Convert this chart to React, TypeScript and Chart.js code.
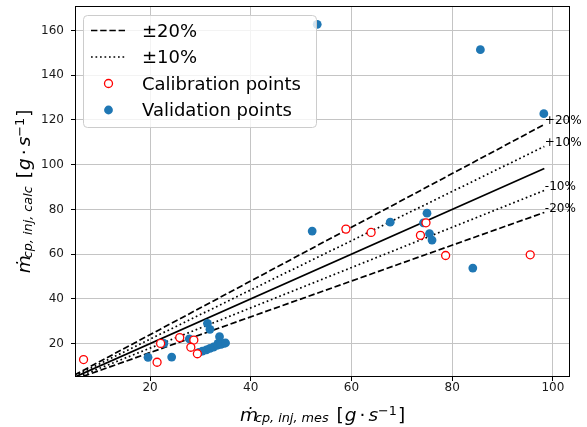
import React, { useEffect, useRef } from 'react';
import { Chart, registerables } from 'chart.js';

Chart.register(...registerables);

const FONT = "'DejaVu Sans', 'Liberation Sans', sans-serif";

// ---- data ----
const xTicks = [20, 40, 60, 80, 100];
const yTicks = [20, 40, 60, 80, 100, 120, 140, 160];

const calX = [6.8, 21.4, 22.1, 25.9, 28.7, 28.1, 29.4, 58.9, 63.9, 74.8, 73.7, 78.7, 95.5];
const calY = [12.9, 11.7, 20.1, 22.7, 21.6, 18.4, 15.5, 71.2, 69.7, 74.0, 68.4, 59.4, 59.7];

const valX = [53.2, 85.6, 98.2, 52.2, 67.7, 75.0, 74.3, 75.5, 76.0, 84.1, 19.6, 24.3, 22.75, 27.8,
  31.4, 31.9, 33.8, 33.5, 34.6, 29.7, 30.4, 31.2, 31.9, 32.6, 33.4, 34.1, 35.0];
const valY = [162.7, 151.4, 122.8, 70.3, 74.3, 78.3, 74.0, 69.2, 66.3, 53.8, 13.9, 14.0, 20.1, 22.1,
  29.1, 26.4, 23.1, 20.1, 20.1, 16.1, 16.7, 17.2, 17.9, 18.5, 19.3, 19.7, 20.3];

const lineX = [5, 98.3];
const refY = [5, 98.3];
const plus20Y = [6.0, 117.96];
const plus10Y = [5.5, 108.13];
const minus10Y = [4.5, 88.47];
const minus20Y = [4.0, 78.64];

const pctLabels = ['+20%', '+10%', '-10%', '-20%'];
const pctLabelX = 98.4;
const pctLabelY = [117.96, 108.13, 88.47, 78.64];

const legendLabels = ['±20%', '±10%', 'Calibration points', 'Validation points'];

const X_MIN = 5.1, X_MAX = 103.4, Y_MIN = 5.1, Y_MAX = 170.9;

const BLUE = '#1f77b4';
const RED = '#ff0000';
const DASH = [6.4, 2.8];
const DOT = [1.7, 2.8];

type Run = { t: string; size: number; italic?: boolean; dy?: number; gap?: number };

const titleRuns = (sub: string): Run[] => [
  { t: 'ṁ', size: 18.5, italic: true },
  { t: sub, size: 12.8, italic: true, dy: 1.5, gap: -3 },
  { t: '[', size: 18.5, gap: 8 },
  { t: 'g', size: 18.5, italic: true, gap: 1 },
  { t: '·', size: 18.5, gap: 3 },
  { t: 's', size: 18.5, italic: true, gap: 3 },
  { t: '−1', size: 12.8, dy: -6 },
  { t: ']', size: 18.5, gap: 1 },
];

function drawRuns(ctx: CanvasRenderingContext2D, runs: Run[], cx: number, by: number) {
  const fontOf = (r: Run) => `${r.italic ? 'italic ' : ''}${r.size}px ${FONT}`;
  let total = 0;
  const widths: number[] = [];
  runs.forEach((r) => {
    ctx.font = fontOf(r);
    const w = ctx.measureText(r.t).width;
    widths.push(w);
    total += w + (r.gap || 0);
  });
  let x = cx - total / 2;
  ctx.textAlign = 'left';
  ctx.textBaseline = 'alphabetic';
  ctx.fillStyle = '#000';
  runs.forEach((r, i) => {
    x += r.gap || 0;
    ctx.font = fontOf(r);
    ctx.fillText(r.t, x, by + (r.dy || 0));
    x += widths[i];
  });
}

const overlayPlugin = {
  id: 'overlay',
  afterDatasetsDraw(chart: any) {
    const { ctx, chartArea, scales } = chart;
    const xs = scales.x, ys = scales.y;
    ctx.save();
    // percent labels
    ctx.font = `12px ${FONT}`;
    ctx.fillStyle = '#000';
    ctx.textAlign = 'left';
    ctx.textBaseline = 'alphabetic';
    pctLabels.forEach((lab, i) => {
      ctx.fillText(lab, xs.getPixelForValue(pctLabelX), ys.getPixelForValue(pctLabelY[i]));
    });
    // frame
    ctx.strokeStyle = '#000';
    ctx.lineWidth = 1;
    ctx.setLineDash([]);
    ctx.strokeRect(chartArea.left + 0.5, chartArea.top + 0.5,
      chartArea.right - chartArea.left - 1, chartArea.bottom - chartArea.top - 1);

    // legend
    const lx = 83.5, ly = 15.5, lw = 233, lh = 112;
    ctx.beginPath();
    if ((ctx as any).roundRect) (ctx as any).roundRect(lx, ly, lw, lh, 4);
    else ctx.rect(lx, ly, lw, lh);
    ctx.fillStyle = 'rgba(255,255,255,0.8)';
    ctx.fill();
    ctx.strokeStyle = '#cccccc';
    ctx.lineWidth = 1;
    ctx.stroke();

    const rowY = [30.5, 57, 83.5, 110];
    const hx0 = 91, hx1 = 127, hxc = 108.5, tx = 142;
    ctx.strokeStyle = '#000';
    ctx.lineWidth = 1.7;
    ctx.setLineDash(DASH);
    ctx.beginPath(); ctx.moveTo(hx0, rowY[0]); ctx.lineTo(hx1, rowY[0]); ctx.stroke();
    ctx.setLineDash(DOT);
    ctx.beginPath(); ctx.moveTo(hx0, rowY[1]); ctx.lineTo(hx1, rowY[1]); ctx.stroke();
    ctx.setLineDash([]);
    ctx.beginPath(); ctx.arc(hxc, rowY[2], 4, 0, Math.PI * 2);
    ctx.fillStyle = '#fff'; ctx.fill();
    ctx.strokeStyle = RED; ctx.lineWidth = 1.3; ctx.stroke();
    ctx.beginPath(); ctx.arc(hxc, rowY[3], 4.4, 0, Math.PI * 2);
    ctx.fillStyle = BLUE; ctx.fill();

    ctx.font = `18px ${FONT}`;
    ctx.fillStyle = '#000';
    ctx.textBaseline = 'alphabetic';
    legendLabels.forEach((lab, i) => ctx.fillText(lab, tx, rowY[i] + 6));

    // axis titles
    drawRuns(ctx, titleRuns('cp, inj, mes'), (chartArea.left + chartArea.right) / 2, 420.5);
    ctx.translate(30, (chartArea.top + chartArea.bottom) / 2);
    ctx.rotate(-Math.PI / 2);
    drawRuns(ctx, titleRuns('cp, inj, calc'), 0, 0);
    ctx.restore();
  },
};

const pts = (xs: number[], ys: number[]) => xs.map((x, i) => ({ x, y: ys[i] }));

export default function App() {
  const ref = useRef<HTMLCanvasElement | null>(null);
  useEffect(() => {
    document.body.style.margin = '0';
    if (!ref.current) return;
    const lineDs = (label: string, ys: number[], dash: number[]) => ({
      label,
      data: pts(lineX, ys),
      showLine: true,
      borderColor: '#000',
      backgroundColor: '#000',
      borderWidth: 1.7,
      borderDash: dash,
      pointRadius: 0,
      pointHoverRadius: 0,
      tension: 0,
      order: 2,
    });
    const chart = new Chart(ref.current, {
      type: 'scatter',
      data: {
        datasets: [
          {
            label: 'Calibration points',
            data: pts(calX, calY),
            pointRadius: 4,
            pointHoverRadius: 4,
            pointBorderWidth: 1.3,
            borderColor: RED,
            backgroundColor: '#fff',
            order: 0,
          },
          {
            label: 'Validation points',
            data: pts(valX, valY),
            pointRadius: 4.4,
            pointHoverRadius: 4.4,
            pointBorderWidth: 0,
            borderColor: BLUE,
            backgroundColor: BLUE,
            order: 1,
          },
          lineDs('ref', refY, []),
          lineDs('+20%', plus20Y, DASH),
          lineDs('-20%', minus20Y, DASH),
          lineDs('+10%', plus10Y, DOT),
          lineDs('-10%', minus10Y, DOT),
        ] as any,
      },
      options: {
        animation: false,
        responsive: false,
        events: [],
        layout: { autoPadding: false, padding: { left: 0, right: 17, top: 6, bottom: 0 } },
        plugins: { legend: { display: false }, tooltip: { enabled: false } },
        scales: {
          x: {
            type: 'linear',
            min: X_MIN,
            max: X_MAX,
            afterBuildTicks: (s: any) => { s.ticks = xTicks.map((v) => ({ value: v })); },
            afterFit: (s: any) => { s.height = 50; s.paddingLeft = 0; s.paddingRight = 0; },
            grid: { color: '#c4c4c4', lineWidth: 1, tickColor: '#000', tickLength: 4, tickWidth: 1 },
            border: { display: false },
            ticks: { font: { family: FONT, size: 12 }, color: '#1a1a1a', padding: 0, maxRotation: 0 },
          },
          y: {
            type: 'linear',
            min: Y_MIN,
            max: Y_MAX,
            afterBuildTicks: (s: any) => { s.ticks = yTicks.map((v) => ({ value: v })); },
            afterFit: (s: any) => { s.width = 75; s.paddingTop = 0; s.paddingBottom = 0; },
            grid: { color: '#c4c4c4', lineWidth: 1, tickColor: '#000', tickLength: 4, tickWidth: 1 },
            border: { display: false },
            ticks: { font: { family: FONT, size: 12 }, color: '#1a1a1a', padding: 7 },
          },
        },
      },
      plugins: [overlayPlugin],
    });
    return () => chart.destroy();
  }, []);
  return <canvas ref={ref} width={587} height={427} style={{ display: 'block' }} />;
}
